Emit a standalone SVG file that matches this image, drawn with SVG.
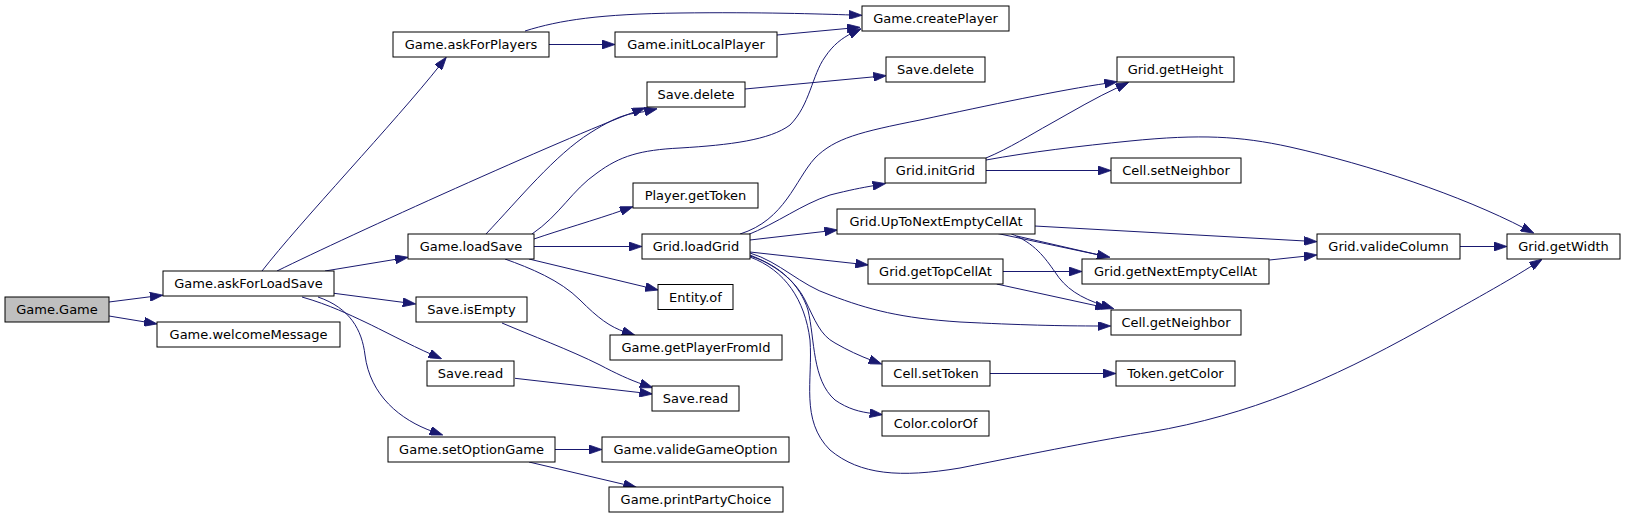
<svg xmlns="http://www.w3.org/2000/svg" width="1625" height="519" viewBox="0 0 1625 519">
<defs>
<style>
.n rect{fill:#ffffff;stroke:#000000;stroke-width:1}
.root rect{fill:#bfbfbf}
.n text{font-family:"DejaVu Sans","Liberation Sans",sans-serif;font-size:13px;fill:#000000;text-anchor:middle}
#edges path{fill:none;stroke:#191970;stroke-width:1;marker-end:url(#ah)}
#edges path.nm{marker-end:none}
</style>
<marker id="ah" viewBox="0 0 13 9" refX="3" refY="4.5" markerWidth="13" markerHeight="9" markerUnits="userSpaceOnUse" orient="auto">
<path d="M0,0 L13,4.5 L0,9 z" fill="#191970" stroke="#191970" stroke-width="0.8"/>
</marker>
</defs>
<rect width="1625" height="519" fill="#ffffff"/>
<g id="edges">
<path d="M109,302 L153,296.4"/>
<path d="M109,316 L147.2,322.3"/>
<path d="M262,271 C300,222 395,122 440.1,65.1"/>
<path d="M277,271 C350,235 560,140 635.8,111.4"/>
<path d="M486,234 C520,198 555,155 590,133 S630,115 647.6,110.9"/>
<path d="M325,271 L398.3,258.9"/>
<path d="M334,293.3 L405.8,302.7"/>
<path d="M302,297 C330,305 350,315 365,322 S410,345 432.5,354.8"/>
<path d="M318,297 C350,308 362,330 365,355 C370,395 400,420 433.3,431.7"/>
<path d="M525,31 C560,20 600,14 680,13 C760,12 820,14 852,15"/>
<path d="M549,44.5 L605,44.5"/>
<path d="M777,35 L850,28.2"/>
<path d="M532,234 C560,215 572,190 597,173 C620,156 640,150 680,148 C730,145 770,140 790,125 C810,105 812,75 825,57 C833,45 842,38 852.3,33"/>
<path d="M534,239 C560,230 595,220 623.5,210"/>
<path d="M534,246.5 L632,246.5"/>
<path d="M529,259 L648.5,287.7"/>
<path d="M505,259 C530,268 560,280 580,300 C598,318 610,327 625.3,332"/>
<path d="M502,323 C530,335 570,350 600,365 C615,373 630,380 643.3,384.5"/>
<path d="M515,378.3 L642.6,392.9"/>
<path d="M555,449.5 L592,449.5"/>
<path d="M529,462 L626.7,485"/>
<path d="M745,89 L876.4,76.6"/>
<path d="M740,234 C785,220 795,180 815,158 C835,138 860,132 920,120 C990,105 1060,90 1107.4,83.2"/>
<path d="M745,236 C780,222 800,205 830,195 C850,190 860,188 875.7,185.3"/>
<path d="M750,240 L827.5,231.1"/>
<path d="M750,252 L858.4,263.9"/>
<path d="M750,253 C780,262 800,285 830,295 C870,310 900,318 960,322 C1020,325 1060,326 1100.7,326"/>
<path d="M750,255 C775,265 795,280 805,300 C815,320 820,335 835,343 C847,350 860,356 872.3,360.6"/>
<path d="M750,256 C780,265 800,285 808,310 C815,340 812,380 835,400 C848,409 860,412 872.7,413.5"/>
<path d="M750,257 C785,270 805,300 810,340 C813,380 800,420 830,450 C860,475 900,478 960,468 C1040,452 1100,440 1150,432 C1250,415 1330,380 1420,330 C1470,302 1510,280 1533.8,264.6"/>
<path d="M986,158 C1010,148 1030,135 1050,124 C1075,110 1095,98 1119.6,86.6"/>
<path d="M986,170.5 L1101,170.5"/>
<path d="M986,160 C1030,152 1080,146 1130,141 C1200,134 1240,136 1290,147 C1370,165 1460,195 1524.9,228.5"/>
<path d="M1034.6,226 L1307,241.1"/>
<path d="M996.7,233.3 L1100.2,255.2"/>
<path class="nm" d="M1016.7,236 L1100.2,255.2"/>
<path d="M1010,233.3 C1035,243 1045,258 1055,272 C1065,288 1080,298 1104.3,305.7"/>
<path d="M1003,271.5 L1072,271.5"/>
<path d="M996.7,284 L1098.5,306.2"/>
<path d="M1269.4,260 L1307,256"/>
<path d="M1460,246.5 L1497,246.5"/>
<path d="M990,373.5 L1106,373.5"/>
</g>
<g id="n_game_game" class="n root"><rect x="5" y="297" width="104" height="25"/><text x="57" y="314">Game.Game</text></g>
<g id="n_askForLoadSave" class="n"><rect x="163" y="271" width="171" height="25"/><text x="248.5" y="288">Game.askForLoadSave</text></g>
<g id="n_welcomeMessage" class="n"><rect x="157" y="322" width="183" height="25"/><text x="248.5" y="339">Game.welcomeMessage</text></g>
<g id="n_askForPlayers" class="n"><rect x="393" y="32" width="156" height="25"/><text x="471" y="49">Game.askForPlayers</text></g>
<g id="n_loadSave" class="n"><rect x="408" y="234" width="126" height="25"/><text x="471" y="251">Game.loadSave</text></g>
<g id="n_isEmpty" class="n"><rect x="416" y="297" width="111" height="25"/><text x="471.5" y="314">Save.isEmpty</text></g>
<g id="n_saveRead1" class="n"><rect x="427" y="361" width="87" height="25"/><text x="470.5" y="378">Save.read</text></g>
<g id="n_setOptionGame" class="n"><rect x="388" y="437" width="167" height="25"/><text x="471.5" y="454">Game.setOptionGame</text></g>
<g id="n_createPlayer" class="n"><rect x="862" y="6" width="147" height="25"/><text x="935.5" y="23">Game.createPlayer</text></g>
<g id="n_initLocalPlayer" class="n"><rect x="615" y="32" width="162" height="25"/><text x="696" y="49">Game.initLocalPlayer</text></g>
<g id="n_saveDelete1" class="n"><rect x="647" y="82" width="98" height="25"/><text x="696" y="99">Save.delete</text></g>
<g id="n_saveDelete2" class="n"><rect x="886" y="57" width="99" height="25"/><text x="935.5" y="74">Save.delete</text></g>
<g id="n_getToken" class="n"><rect x="633" y="183" width="125" height="25"/><text x="695.5" y="200">Player.getToken</text></g>
<g id="n_loadGrid" class="n"><rect x="642" y="234" width="108" height="25"/><text x="696" y="251">Grid.loadGrid</text></g>
<g id="n_entityOf" class="n"><rect x="658" y="284.5" width="75" height="25"/><text x="695.5" y="301.5">Entity.of</text></g>
<g id="n_getPlayerFromId" class="n"><rect x="610" y="335" width="172" height="25"/><text x="696" y="352">Game.getPlayerFromId</text></g>
<g id="n_saveRead2" class="n"><rect x="652" y="386" width="87" height="25"/><text x="695.5" y="403">Save.read</text></g>
<g id="n_valideGameOption" class="n"><rect x="602" y="437" width="187" height="25"/><text x="695.5" y="454">Game.valideGameOption</text></g>
<g id="n_printPartyChoice" class="n"><rect x="609" y="487" width="174" height="25"/><text x="696" y="504">Game.printPartyChoice</text></g>
<g id="n_initGrid" class="n"><rect x="885" y="158" width="101" height="25"/><text x="935.5" y="175">Grid.initGrid</text></g>
<g id="n_upToNext" class="n"><rect x="837" y="209" width="198" height="25"/><text x="936" y="226">Grid.UpToNextEmptyCellAt</text></g>
<g id="n_getTopCellAt" class="n"><rect x="868" y="259" width="135" height="25"/><text x="935.5" y="276">Grid.getTopCellAt</text></g>
<g id="n_setToken" class="n"><rect x="882" y="361" width="108" height="25"/><text x="936" y="378">Cell.setToken</text></g>
<g id="n_colorOf" class="n"><rect x="882" y="411" width="107" height="25"/><text x="935.5" y="428">Color.colorOf</text></g>
<g id="n_getHeight" class="n"><rect x="1117" y="57" width="117" height="25"/><text x="1175.5" y="74">Grid.getHeight</text></g>
<g id="n_setNeighbor" class="n"><rect x="1111" y="158" width="130" height="25"/><text x="1176" y="175">Cell.setNeighbor</text></g>
<g id="n_getNextEmpty" class="n"><rect x="1082" y="259" width="187" height="25"/><text x="1175.5" y="276">Grid.getNextEmptyCellAt</text></g>
<g id="n_getNeighbor" class="n"><rect x="1111" y="310" width="130" height="25"/><text x="1176" y="327">Cell.getNeighbor</text></g>
<g id="n_getColor" class="n"><rect x="1116" y="361" width="119" height="25"/><text x="1175.5" y="378">Token.getColor</text></g>
<g id="n_valideColumn" class="n"><rect x="1317" y="234" width="143" height="25"/><text x="1388.5" y="251">Grid.valideColumn</text></g>
<g id="n_getWidth" class="n"><rect x="1507" y="234" width="113" height="25"/><text x="1563.5" y="251">Grid.getWidth</text></g>
</svg>
